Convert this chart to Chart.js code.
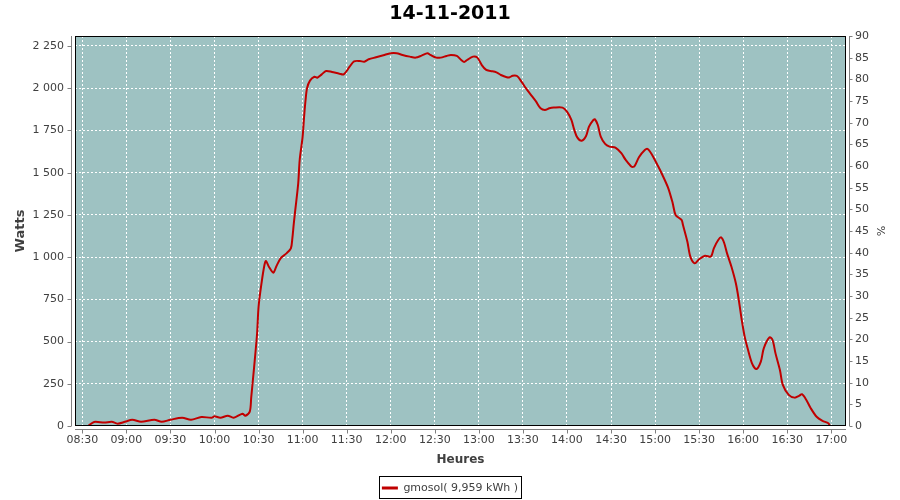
<!DOCTYPE html>
<html>
<head>
<meta charset="utf-8">
<script src="https://cdn.jsdelivr.net/npm/chart.js@4.4.1/dist/chart.umd.min.js"></script>
<style>
    html, body { margin: 0; padding: 0; background: #ffffff; }
    #wrap { width: 900px; height: 500px; }
</style>
</head>
<body>
<div id="wrap"><canvas id="prodChart" width="900" height="500"></canvas></div>
<script>
// heures de mesure et puissance (W)
const heures = ['08:34', '08:38', '08:45', '08:50', '08:54', '08:59', '09:04', '09:10', '09:19', '09:24',
    '09:30', '09:38', '09:44', '09:51', '09:58', '10:00', '10:04', '10:09', '10:13', '10:19',
    '10:21', '10:24', '10:25', '10:27', '10:29', '10:30', '10:32', '10:34', '10:35', '10:37',
    '10:40', '10:42', '10:45', '10:49', '10:52', '10:53', '10:54', '10:55', '10:57', '10:58',
    '11:00', '11:01', '11:02', '11:03', '11:05', '11:08', '11:10', '11:13', '11:16', '11:20',
    '11:25', '11:28', '11:32', '11:35', '11:39', '11:42', '11:45', '11:50', '11:55', '12:00',
    '12:04', '12:08', '12:13', '12:17', '12:21', '12:25', '12:27', '12:31', '12:34', '12:38',
    '12:41', '12:45', '12:48', '12:50', '12:52', '12:56', '12:59', '13:02', '13:05', '13:08',
    '13:12', '13:15', '13:19', '13:21', '13:23', '13:26', '13:29', '13:32', '13:36', '13:39',
    '13:42', '13:45', '13:48', '13:51', '13:57', '14:00', '14:03', '14:05', '14:07', '14:10',
    '14:13', '14:15', '14:18', '14:19', '14:21', '14:23', '14:26', '14:29', '14:33', '14:37',
    '14:40', '14:44', '14:46', '14:49', '14:53', '14:55', '14:58', '15:02', '15:05', '15:09',
    '15:12', '15:14', '15:18', '15:19', '15:22', '15:24', '15:27', '15:30', '15:34', '15:38',
    '15:40', '15:43', '15:45', '15:47', '15:49', '15:52', '15:55', '15:57', '15:59', '16:01',
    '16:03', '16:06', '16:09', '16:12', '16:14', '16:18', '16:20', '16:22', '16:25', '16:27',
    '16:31', '16:35', '16:38', '16:40', '16:43', '16:46', '16:50', '16:54', '16:58', '16:59'];

const watts = [0, 24, 20, 25, 14, 25, 37, 25, 37, 25,
    37, 49, 37, 53, 49, 57, 49, 61, 49, 73,
    61, 85, 170, 351, 549, 706, 845, 953, 977, 943,
    908, 943, 993, 1022, 1052, 1111, 1200, 1279, 1437, 1575,
    1713, 1831, 1930, 2000, 2045, 2068, 2062, 2082, 2102, 2096,
    2086, 2082, 2127, 2159, 2161, 2157, 2171, 2183, 2195, 2207,
    2207, 2197, 2187, 2181, 2193, 2207, 2197, 2181, 2181, 2191,
    2197, 2191, 2167, 2155, 2167, 2187, 2181, 2137, 2108, 2102,
    2094, 2078, 2065, 2065, 2074, 2072, 2039, 2000, 1954, 1920,
    1881, 1871, 1881, 1885, 1885, 1861, 1812, 1753, 1709, 1689,
    1717, 1772, 1812, 1816, 1782, 1713, 1670, 1654, 1648, 1615,
    1575, 1535, 1539, 1591, 1634, 1640, 1605, 1539, 1486, 1407,
    1319, 1249, 1220, 1190, 1091, 1003, 963, 987, 1008, 1003,
    1052, 1101, 1117, 1085, 1022, 943, 845, 746, 628, 529,
    460, 371, 337, 381, 460, 525, 509, 430, 332, 243,
    184, 168, 178, 188, 154, 105, 55, 31, 16, 0];

const timeTicks = ['08:30', '09:00', '09:30', '10:00', '10:30', '11:00', '11:30', '12:00', '12:30',
    '13:00', '13:30', '14:00', '14:30', '15:00', '15:30', '16:00', '16:30', '17:00'];
const wattsTicks = [0, 250, 500, 750, 1000, 1250, 1500, 1750, 2000, 2250];
const pctTicks = [0, 5, 10, 15, 20, 25, 30, 35, 40, 45, 50, 55, 60, 65, 70, 75, 80, 85, 90];

const serieLabel = 'gmosol( 9,959 kWh )';
const titre = '14-11-2011';

function toMinutes(s) {
    const p = s.split(':');
    return parseInt(p[0], 10) * 60 + parseInt(p[1], 10);
}

function milliers(v) {
    return String(v).replace(/\B(?=(\d{3})+(?!\d))/g, ' ');
}

const points = heures.map(function(h, i) {
    return { x: toMinutes(h), y: watts[i] };
});

const tickFont = { family: 'DejaVu Sans', size: 11 };
const labelFont = { family: 'DejaVu Sans', size: 12, weight: 'bold' };
const legendShift = 3.5;

// fond du graphe, cadre noir, axes decales (style JFreeChart)
const plotFrame = {
    id: 'plotFrame',
    afterLayout: function(chart) {
        chart.legend.top += legendShift;
        chart.legend.bottom += legendShift;
    },
    beforeDraw: function(chart) {
        const a = chart.chartArea;
        const ctx = chart.ctx;
        ctx.save();
        ctx.fillStyle = '#9ec2c2';
        ctx.fillRect(a.left, a.top, a.right - a.left, a.bottom - a.top);
        ctx.restore();
    },
    afterDraw: function(chart) {
        const a = chart.chartArea;
        const ctx = chart.ctx;
        ctx.save();
        ctx.strokeStyle = '#000000';
        ctx.lineWidth = 1;
        ctx.strokeRect(a.left + 0.5, a.top + 0.5, a.right - a.left - 1, a.bottom - a.top - 1);

        ctx.strokeStyle = '#808080';
        ctx.beginPath();
        // axe gauche
        const lx = a.left - 3.5;
        ctx.moveTo(lx, a.top);
        ctx.lineTo(lx, a.bottom);
        chart.scales.y.ticks.forEach(function(t) {
            const py = Math.round(chart.scales.y.getPixelForValue(t.value)) + 0.5;
            ctx.moveTo(lx, py);
            ctx.lineTo(lx - 4, py);
        });
        // axe droit
        const rx = a.right + 3.5;
        ctx.moveTo(rx, a.top);
        ctx.lineTo(rx, a.bottom);
        chart.scales.y1.ticks.forEach(function(t) {
            const py = Math.round(chart.scales.y1.getPixelForValue(t.value)) + 0.5;
            ctx.moveTo(rx, py);
            ctx.lineTo(rx + 3, py);
        });
        // axe du bas
        const by = a.bottom + 3.5;
        ctx.moveTo(a.left, by);
        ctx.lineTo(a.right, by);
        chart.scales.x.ticks.forEach(function(t) {
            const px = Math.round(chart.scales.x.getPixelForValue(t.value)) + 0.5;
            ctx.moveTo(px, by);
            ctx.lineTo(px, by + 4);
        });
        ctx.stroke();

        // cadre de la legende
        const hb = chart.legend.legendHitBoxes[0];
        if (hb) {
            const cy = chart.legend.top + chart.options.plugins.legend.labels.padding + tickFont.size / 2;
            ctx.strokeStyle = '#000000';
            ctx.strokeRect(Math.round(hb.left) - 2.5, Math.round(cy) - 11.5, Math.round(hb.width) + 6, 22);
        }
        ctx.restore();
    }
};

const ctx = document.getElementById('prodChart').getContext('2d');
const prodChart = new Chart(ctx, {
    type: 'line',
    data: {
        datasets: [{
            label: serieLabel,
            data: points,
            borderColor: '#c00000',
            backgroundColor: '#c00000',
            borderWidth: 2,
            pointRadius: 0,
            tension: 0.3,
            fill: false,
            yAxisID: 'y'
        }]
    },
    options: {
        responsive: false,
        animation: false,
        layout: { padding: 0 },
        plugins: {
            title: {
                display: true,
                text: titre,
                color: '#000000',
                font: { family: 'DejaVu Sans', size: 19, weight: 'bold' },
                padding: { top: 2.6, bottom: 10.6 }
            },
            legend: {
                position: 'bottom',
                labels: {
                    color: '#404040',
                    font: tickFont,
                    boxWidth: 16,
                    boxHeight: 3,
                    padding: 10,
                    generateLabels: function(chart) {
                        const items = Chart.defaults.plugins.legend.labels.generateLabels(chart);
                        items.forEach(function(it) { it.lineWidth = 0; });
                        return items;
                    }
                }
            },
            tooltip: { enabled: false }
        },
        scales: {
            x: {
                type: 'linear',
                min: 505,
                max: 1030,
                afterFit: function(scale) { scale.height = 43; },
                afterBuildTicks: function(scale) {
                    scale.ticks = timeTicks.map(function(t) { return { value: toMinutes(t) }; });
                },
                ticks: {
                    autoSkip: false,
                    maxRotation: 0,
                    padding: 8,
                    color: '#404040',
                    font: tickFont,
                    callback: function(value, index) { return timeTicks[index]; }
                },
                grid: { color: '#ffffff', lineWidth: 1, drawTicks: false },
                border: { display: false, dash: [2, 2] },
                title: { display: true, text: 'Heures', color: '#404040', font: labelFont, padding: { top: 0, bottom: 2 } }
            },
            y: {
                position: 'left',
                min: 0,
                max: 2309,
                afterFit: function(scale) { scale.width = 75; },
                afterBuildTicks: function(scale) {
                    scale.ticks = wattsTicks.map(function(v) { return { value: v }; });
                },
                ticks: {
                    autoSkip: false,
                    padding: 11,
                    color: '#404040',
                    font: tickFont,
                    callback: function(value) { return milliers(value); }
                },
                grid: { color: '#ffffff', lineWidth: 1, drawTicks: false },
                border: { display: false, dash: [2, 2] },
                title: { display: true, text: 'Watts', color: '#404040', font: { family: 'DejaVu Sans', size: 13, weight: 'bold' }, padding: { top: 13, bottom: 0 } }
            },
            y1: {
                position: 'right',
                min: 0,
                max: 90,
                afterFit: function(scale) { scale.width = 54; },
                afterBuildTicks: function(scale) {
                    scale.ticks = pctTicks.map(function(v) { return { value: v }; });
                },
                ticks: {
                    autoSkip: false,
                    padding: 9,
                    color: '#404040',
                    font: tickFont
                },
                grid: { display: false, drawTicks: false },
                border: { display: false },
                title: { display: true, text: '%', color: '#404040', font: { family: 'DejaVu Sans', size: 11 }, padding: { top: 14, bottom: 0 } }
            }
        }
    },
    plugins: [plotFrame]
});
</script>
</body>
</html>
